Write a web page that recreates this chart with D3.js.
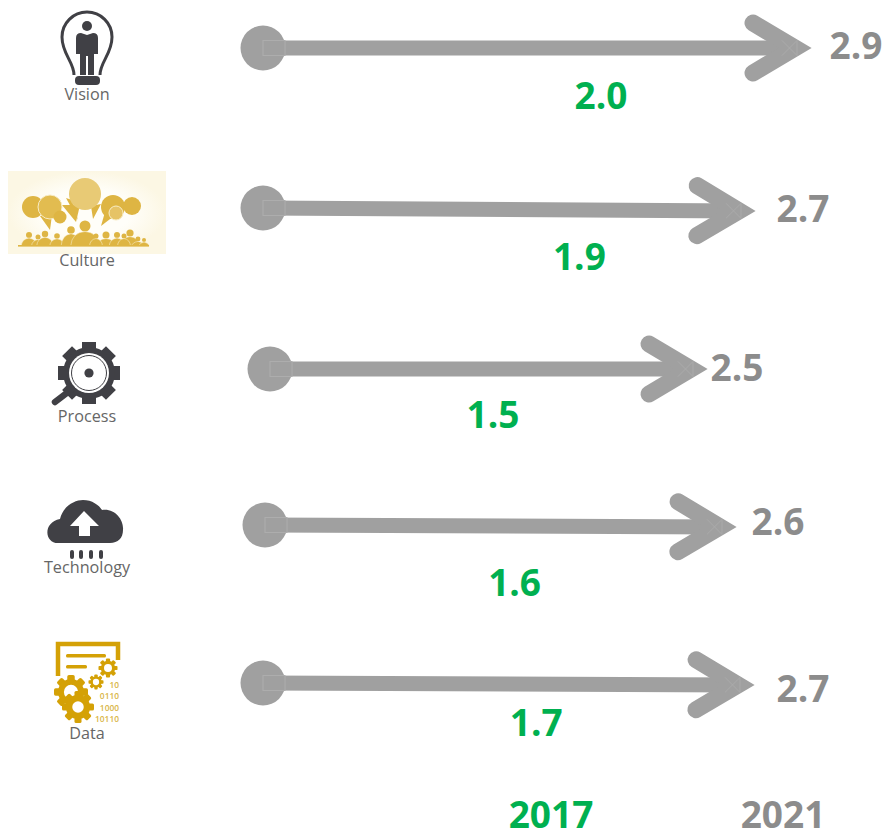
<!DOCTYPE html>
<html><head><meta charset="utf-8">
<script src="https://cdn.jsdelivr.net/npm/d3@7"></script>
<style>html,body{margin:0;padding:0;background:#fff}svg{display:block}text{font-family:"Open Sans",sans-serif}</style>
</head><body><div id="c"></div>
<script>
// ---- data ----
const categories = ["Vision","Culture","Process","Technology","Data"];
const values2017 = [2.0,1.9,1.5,1.6,1.7];
const values2021 = [2.9,2.7,2.5,2.6,2.7];
const yearLabels = ["2017","2021"];

// ---- layout (pixel placement) ----
const W=885,H=830;
const rowStartX=[263,263,270,265,263];
const rowStartY=[48,208,369,525,683];
const rowTipY=[48,211,369,527,685];
const tipNudge=[0,0,8,9,-1];
const labelY2021=[46,209,368,522,689];
const labelGap2021=[44,47,29,41,48];
const labelY2017=[96,257,415,583,723];
const iconLabelY=[94,260,416,567,733];

const GREEN="#00b050",GREY="#a0a0a0",TXT="#8c8c8c",DARK="#404045",GOLD="#d4a106",LBL="#666";

const x2021=d3.scaleLinear().domain([2.7,2.9]).range([756,812]);
const x2017=d3.scaleLinear().domain([1.5,2.0]).range([493,601]);

const svg=d3.select("#c").append("svg").attr("width",W).attr("height",H).attr("viewBox",[0,0,W,H]);

// ---- arrows ----
const rows=categories.map((c,i)=>({c,i,a:values2017[i],b:values2021[i]}));
const g=svg.selectAll("g.row").data(rows).join("g").attr("class","row");
g.each(function(d){
  const s=d3.select(this),i=d.i,x0=rowStartX[i],y0=rowStartY[i],tip=x2021(d.b)+tipNudge[i],y1=rowTipY[i];
  const ang=Math.atan2(y1-y0,tip-x0)*180/Math.PI;
  s.append("circle").attr("cx",x0).attr("cy",y0).attr("r",22.5).attr("fill",GREY);
  s.append("line").attr("x1",x0).attr("y1",y0).attr("x2",tip-15).attr("y2",y1)
    .attr("stroke",GREY).attr("stroke-width",15);
  s.append("rect").attr("x",x0).attr("y",y0-7.5).attr("width",22).attr("height",15)
    .attr("fill","none").attr("stroke","#adadad").attr("stroke-width",1);
  const head=s.append("g").attr("transform",`translate(${tip},${y1}) rotate(${ang})`);
  head.append("path").attr("d",d3.line()([[-59,-25],[-17,0],[-59,25]]))
    .attr("fill","none").attr("stroke",GREY).attr("stroke-width",17)
    .attr("stroke-linecap","round").attr("stroke-linejoin","miter").attr("stroke-miterlimit",6);
  head.append("path").attr("d","M-30,-7.5 L-15,7.5 L-15,-7.5 L-30,7.5")
    .attr("fill","none").attr("stroke","#adadad").attr("stroke-width",0.8);
  s.append("text").attr("x",tip+labelGap2021[i]).attr("y",labelY2021[i]).attr("dy","0.36em")
    .attr("text-anchor","middle").attr("font-size",37).attr("font-weight",700).attr("fill",TXT)
    .text(d3.format(".1f")(d.b));
  s.append("text").attr("x",x2017(d.a)).attr("y",labelY2017[i]).attr("dy","0.36em")
    .attr("text-anchor","middle").attr("font-size",37).attr("font-weight",700).attr("fill",GREEN)
    .text(d3.format(".1f")(d.a));
  s.append("text").attr("x",87).attr("y",iconLabelY[i]).attr("dy","0.36em")
    .attr("text-anchor","middle").attr("font-size",16.2).attr("fill",LBL).text(d.c);
});

// ---- year labels ----
svg.selectAll("text.year").data(yearLabels).join("text").attr("class","year")
  .attr("x",(d,i)=>[551,783][i]).attr("y",815).attr("dy","0.36em").attr("text-anchor","middle")
  .attr("font-size",37).attr("font-weight",700).attr("fill",(d,i)=>[GREEN,TXT][i]).text(d=>d);

// ---- icons ----
const defs=svg.append("defs");
const rg=defs.append("radialGradient").attr("id","cbg");
rg.append("stop").attr("offset","55%").attr("stop-color","#fffef9");
rg.append("stop").attr("offset","100%").attr("stop-color","#fcf7e4");

// Vision: bulb with person
const v=svg.append("g");
v.append("path").attr("d","M74,75 C74,62 62,54 62,37 A25,25 0 1 1 112,37 C112,54 100,62 100,75")
  .attr("fill","none").attr("stroke",DARK).attr("stroke-width",3);
v.append("rect").attr("x",75).attr("y",76).attr("width",25).attr("height",9).attr("rx",4).attr("fill",DARK);
v.append("circle").attr("cx",87).attr("cy",26).attr("r",5).attr("fill",DARK);
v.append("path").attr("d","M76,38 Q76,33 81,33 L87,35 L93,33 Q98,33 98,38 L98,54 L94,54 L94,75 L88,75 L88,56 L86,56 L86,75 L80,75 L80,54 L76,54 Z").attr("fill",DARK);

// Culture
const cu=svg.append("g");
cu.append("rect").attr("x",8).attr("y",171).attr("width",158).attr("height",83).attr("fill","url(#cbg)");
const bub="#deb543",bub2="#e8ca75";
[["M40,216 L50,230 L52,215Z"],["M72,200 L78,220 L66,198Z"],["M91,206 L93,219 L101,204Z"],["M105,212 L101,226 L114,216Z"],["M62,205 L76,222 L80,205Z"]]
 .forEach(p=>cu.append("path").attr("d",p[0]).attr("fill",bub));
[[33,207,11,bub,0],[50,207,12,"#e2bc50",1],[60,217,6.5,bub,0],[113,207,12,bub,0],[132,206,9,bub,0],[116,213,7,"#e6c366",1],[85,194,16,bub2,0]]
 .forEach(d=>cu.append("circle").attr("cx",d[0]).attr("cy",d[1]).attr("r",d[2]).attr("fill",d[3]).attr("stroke",d[4]?"#f8ecc4":"none").attr("stroke-width",1));
const people=[[29,235,3],[38,237,2.5],[45,234,3.2],[57,236,2.8],[71,230,3.8],[85,226,5.5],[106,235,3.5],[96,236,2.5],[117,235,3],[130,233,3.6],[124,236,2.5],[138,239,2.4],[144,240,2]];
people.forEach(p=>{
  cu.append("circle").attr("cx",p[0]).attr("cy",p[1]).attr("r",p[2]).attr("fill",bub);
  cu.append("path").attr("d",`M${p[0]-p[2]*2.6},246 Q${p[0]-p[2]*2.4},${p[1]+p[2]+1} ${p[0]},${p[1]+p[2]} Q${p[0]+p[2]*2.4},${p[1]+p[2]+1} ${p[0]+p[2]*2.6},246Z`).attr("fill",bub).attr("stroke","#fbf3d6").attr("stroke-width",0.5);
});
cu.append("rect").attr("x",18).attr("y",245).attr("width",131).attr("height",1.6).attr("fill",bub);

// Process: gear + magnifier
const pr=svg.append("g").attr("transform","translate(89,373)");
d3.range(8).forEach(k=>pr.append("rect").attr("x",-7).attr("y",-31).attr("width",14).attr("height",12)
  .attr("fill",DARK).attr("transform",`rotate(${k*45})`));
pr.append("circle").attr("r",26).attr("fill",DARK);
pr.append("circle").attr("r",20).attr("fill","#fff");
pr.append("circle").attr("r",17.5).attr("fill","none").attr("stroke",DARK).attr("stroke-width",1);
pr.append("circle").attr("r",4.6).attr("fill",DARK);
pr.append("line").attr("x1",-34).attr("y1",29).attr("x2",-17).attr("y2",16).attr("stroke",DARK).attr("stroke-width",6.5).attr("stroke-linecap","round");

// Technology: cloud
const te=svg.append("g");
te.append("path").attr("d","M58,543 C44,543 43,522 60,519 C63,506 75,500 83,500 C92,500 99,505 102,510 C115,508 124,520 123,530 C123,538 118,543 110,543 Z").attr("fill",DARK);
te.append("path").attr("d","M84,511 L99,526 L90,526 L90,536 L79,536 L79,526 L70,526 Z").attr("fill","#fff");
[72,81,91,101].forEach(x=>te.append("rect").attr("x",x-2).attr("y",550).attr("width",4).attr("height",9).attr("rx",2).attr("fill",DARK));

// Data: frame, gears, binary
const da=svg.append("g");
da.append("path").attr("d","M58,676 L58,644 L118,644 L118,660").attr("fill","none").attr("stroke",GOLD).attr("stroke-width",4.5);
da.append("rect").attr("x",66).attr("y",654).attr("width",40).attr("height",3.5).attr("rx",1.5).attr("fill",GOLD);
da.append("rect").attr("x",66).attr("y",665).attr("width",21).attr("height",3.5).attr("rx",1.5).attr("fill",GOLD);
function gear(cx,cy,r,hole){
  const n=svg.append("g").attr("transform",`translate(${cx},${cy})`);
  d3.range(8).forEach(k=>n.append("rect").attr("x",-r*0.22).attr("y",-r).attr("width",r*0.44).attr("height",r*0.6)
    .attr("rx",r*0.1).attr("fill",GOLD).attr("transform",`rotate(${k*45})`));
  n.append("circle").attr("r",r*0.76).attr("fill",GOLD);
  n.append("circle").attr("r",r*hole).attr("fill","#fff");
}
gear(71,692,17,0.42);
gear(78,707,16,0.36);
gear(96,682,7.5,0.42);
gear(108,668,9.5,0.42);
[["10",119,687.5],["0110",119,699],["1000",119,710.6],["10110",119,722.2]].forEach(t=>
  da.append("text").attr("x",t[1]).attr("y",t[2]).attr("text-anchor","end").attr("font-size",8.4).attr("font-weight",600).attr("fill","#d9b545").text(t[0]));
</script></body></html>
